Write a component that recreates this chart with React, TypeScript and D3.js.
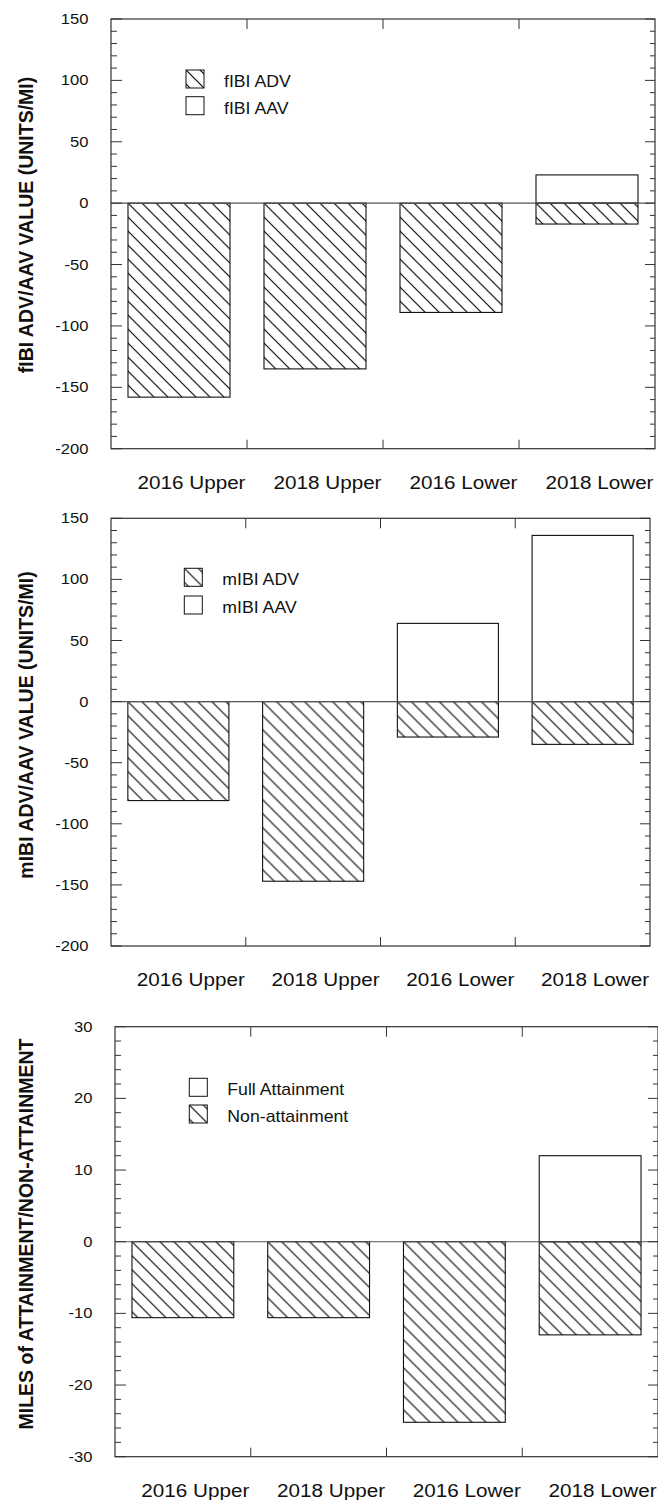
import React from 'react';
import * as d3 from 'd3';

const categories = ['2016 Upper', '2018 Upper', '2016 Lower', '2018 Lower'];

// fIBI panel
const fibiAdv = [-158, -135, -89, -17];
const fibiAav = [0, 0, 0, 23];
// mIBI panel
const mibiAdv = [-81, -147, -29, -35];
const mibiAav = [0, 0, 64, 136];
// miles panel
const milesFull = [0, 0, 0, 12];
const milesNon = [-10.6, -10.6, -25.2, -13];

const ibiTicks = [150, 100, 50, 0, -50, -100, -150, -200];
const milesTicks = [30, 20, 10, 0, -10, -20, -30];

const FONT = '"Liberation Sans", Arial, Helvetica, sans-serif';
const INK = '#111';
const AXIS = '#333';

interface LegendItem {
  label: string;
  hatched: boolean;
}

interface PanelProps {
  id: string;
  x0: number;
  x1: number;
  y0: number;
  y1: number;
  domain: [number, number];
  ticks: number[];
  minorStep: number;
  open: number[];
  hatched: number[];
  legend: LegendItem[];
  legendX: number;
  legendY: number;
  legendGap: number;
  title: string;
  titleY: number;
}

const HATCH = 14;

function HatchPattern({ id, x, y }: { id: string; x: number; y: number }) {
  return (
    <pattern id={id} x={x} y={y} width={HATCH} height={HATCH} patternUnits="userSpaceOnUse">
      <path
        d={`M0,0L${HATCH},${HATCH}M-1,${HATCH - 1}L1,${HATCH + 1}M${HATCH - 1},-1L${HATCH + 1},1`}
        stroke="#000"
        strokeWidth={1.1}
        fill="none"
      />
    </pattern>
  );
}

function Label({ x, y, text, size, sx = 1, anchor = 'middle' }: { x: number; y: number; text: string; size: number; sx?: number; anchor?: string }) {
  return (
    <text
      transform={`translate(${x},${y}) scale(${sx},1)`}
      textAnchor={anchor}
      fontSize={size}
      fontFamily={FONT}
      fill="#111"
    >
      {text}
    </text>
  );
}

function Panel(p: PanelProps) {
  const x = d3.scaleBand<string>().domain(categories).range([p.x0, p.x1]).paddingInner(0.25).paddingOuter(0.125);
  const band = d3.scaleBand<string>().domain(categories).range([p.x0, p.x1]);
  const y = d3.scaleLinear().domain(p.domain).range([p.y1, p.y0]);
  const y0 = y(0);

  const minor = d3.range(p.domain[0], p.domain[1] + 1e-9, p.minorStep);
  const boundaries = categories.slice(1).map(c => band(c)!);

  return (
    <g>
      <defs>
        {p.hatched.map((v, i) => (
          <HatchPattern key={i} id={`${p.id}-h${i}`} x={x(categories[i])!} y={y0} />
        ))}
        <HatchPattern id={`${p.id}-leg`} x={p.legendX} y={p.legendY + p.legend.findIndex(l => l.hatched) * p.legendGap} />
      </defs>

      {/* open (positive) bars */}
      {p.open.map((v, i) =>
        v > 0 ? (
          <rect
            key={`o${i}`}
            x={x(categories[i])}
            y={y(v)}
            width={x.bandwidth()}
            height={y0 - y(v)}
            fill="#fff"
            stroke={INK}
            strokeWidth={1.1}
          />
        ) : null
      )}

      {/* hatched (negative) bars */}
      {p.hatched.map((v, i) => (
        <rect
          key={`h${i}`}
          x={x(categories[i])}
          y={y0}
          width={x.bandwidth()}
          height={y(v) - y0}
          fill={`url(#${p.id}-h${i})`}
          stroke={INK}
          strokeWidth={1.1}
        />
      ))}

      {/* zero line */}
      <line x1={p.x0} x2={p.x1} y1={y0} y2={y0} stroke="#555" strokeWidth={1.1} />

      {/* frame */}
      <rect x={p.x0} y={p.y0} width={p.x1 - p.x0} height={p.y1 - p.y0} fill="none" stroke={AXIS} strokeWidth={1.2} />

      {/* minor + major ticks left / right */}
      {minor.map(v => {
        const major = p.ticks.some(t => Math.abs(t - v) < 1e-6);
        const yy = y(v);
        return (
          <g key={`t${v}`} stroke={AXIS} strokeWidth={1}>
            <line x1={p.x0} x2={p.x0 + (major ? 11 : 6)} y1={yy} y2={yy} />
            <line x1={p.x1} x2={p.x1 - (major ? 10 : 5)} y1={yy} y2={yy} />
          </g>
        );
      })}

      {/* category boundary ticks */}
      {boundaries.map(b => (
        <g key={`b${b}`} stroke={AXIS} strokeWidth={1}>
          <line x1={b} x2={b} y1={p.y0} y2={p.y0 + 10} />
          <line x1={b} x2={b} y1={p.y1} y2={p.y1 - 9} />
        </g>
      ))}

      {/* y tick labels */}
      {p.ticks.map(t => (
        <Label key={`l${t}`} x={p.x0 - 22.5} y={y(t) + 5} text={String(t)} size={14.8} sx={1.12} anchor="end" />
      ))}

      {/* category labels */}
      {categories.map(c => (
        <Label key={c} x={band(c)! + band.bandwidth() / 2 + 12.5} y={p.y1 + 40} text={c} size={18.8} sx={1.1} />
      ))}

      {/* legend */}
      {p.legend.map((l, i) => {
        const by = p.legendY + i * p.legendGap;
        return (
          <g key={l.label}>
            <rect
              x={p.legendX}
              y={by}
              width={18}
              height={18}
              fill={l.hatched ? `url(#${p.id}-leg)` : '#fff'}
              stroke={INK}
              strokeWidth={1}
            />
            <Label x={p.legendX + 38} y={by + 17} text={l.label} size={15.8} sx={1.12} anchor="start" />
          </g>
        );
      })}

      {/* y axis title */}
      <text
        transform={`translate(33,${p.titleY}) rotate(-90)`}
        textAnchor="middle"
        fontSize={19.5}
        fontWeight="bold"
        fontFamily={FONT}
        fill="#111"
      >
        {p.title}
      </text>
    </g>
  );
}

export default function App() {
  return (
    <svg
      width={658}
      height={1500}
      style={{ position: 'absolute', left: 0, top: 0, display: 'block', background: '#fff' }}
    >
      <rect width={658} height={1500} fill="#fff" />
      <Panel
        id="fibi"
        x0={111}
        x1={655}
        y0={19}
        y1={448.7}
        domain={[-200, 150]}
        ticks={ibiTicks}
        minorStep={10}
        open={fibiAav}
        hatched={fibiAdv}
        legend={[
          { label: 'fIBI ADV', hatched: true },
          { label: 'fIBI AAV', hatched: false },
        ]}
        legendX={186}
        legendY={70}
        legendGap={26.7}
        title="fIBI ADV/AAV VALUE (UNITS/MI)"
        titleY={225}
      />
      <Panel
        id="mibi"
        x0={111}
        x1={650}
        y0={518.3}
        y1={946}
        domain={[-200, 150]}
        ticks={ibiTicks}
        minorStep={10}
        open={mibiAav}
        hatched={mibiAdv}
        legend={[
          { label: 'mIBI ADV', hatched: true },
          { label: 'mIBI AAV', hatched: false },
        ]}
        legendX={184.3}
        legendY={568.3}
        legendGap={27.7}
        title="mIBI ADV/AAV VALUE (UNITS/MI)"
        titleY={725}
      />
      <Panel
        id="miles"
        x0={115}
        x1={658}
        y0={1026.7}
        y1={1456.7}
        domain={[-30, 30]}
        ticks={milesTicks}
        minorStep={2}
        open={milesFull}
        hatched={milesNon}
        legend={[
          { label: 'Full Attainment', hatched: false },
          { label: 'Non-attainment', hatched: true },
        ]}
        legendX={189.3}
        legendY={1078.3}
        legendGap={26.7}
        title="MILES of ATTAINMENT/NON-ATTAINMENT"
        titleY={1234}
      />
    </svg>
  );
}
